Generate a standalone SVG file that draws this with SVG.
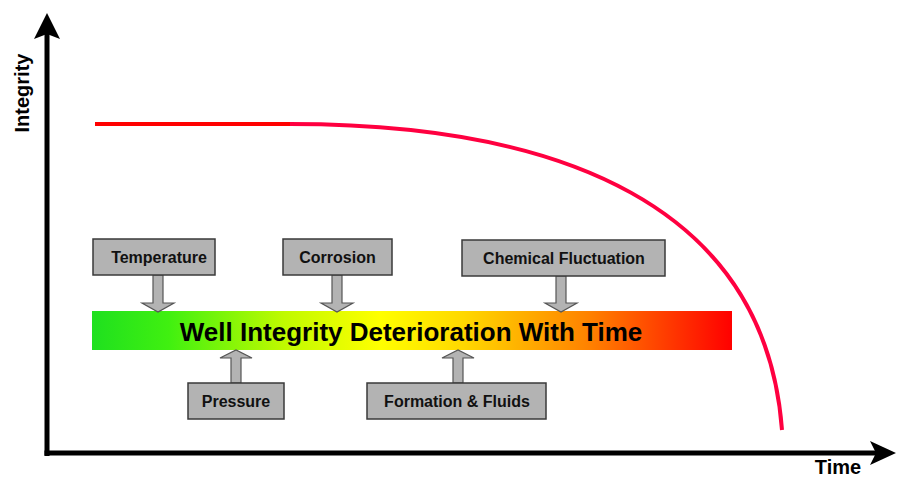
<svg xmlns="http://www.w3.org/2000/svg" width="897" height="477" viewBox="0 0 897 477">
<defs>
<linearGradient id="bar" x1="0" y1="0" x2="1" y2="0">
<stop offset="0" stop-color="#1fe01f"/>
<stop offset="0.12" stop-color="#40f010"/>
<stop offset="0.3" stop-color="#c0fa00"/>
<stop offset="0.45" stop-color="#ffff00"/>
<stop offset="0.58" stop-color="#ffd800"/>
<stop offset="0.78" stop-color="#ff8000"/>
<stop offset="1" stop-color="#ff0000"/>
</linearGradient>
<style>
.box{fill:#b3b3b3;stroke:#3a3a3a;stroke-width:1.5}
.arr{fill:#b3b3b3;stroke:#555;stroke-width:1.2}
.lbl{font-family:"Liberation Sans",Arial,sans-serif;font-weight:bold;font-size:16px;fill:#111;text-anchor:middle}
.ax{font-family:"Liberation Sans",Arial,sans-serif;font-weight:bold;font-size:20px;fill:#000;text-anchor:middle}
</style>
</defs>
<rect width="897" height="477" fill="#fff"/>
<g id="axes">
<line x1="47" y1="456" x2="47" y2="34" stroke="#000" stroke-width="5"/>
<polygon points="47,13 60,39 47,34 34,39" fill="#000"/>
<line x1="44.5" y1="453" x2="880" y2="453" stroke="#000" stroke-width="5"/>
<polygon points="896,453 870,441 876,453 870,465" fill="#000"/>
<text class="ax" transform="translate(29,93) rotate(-90)">Integrity</text>
<text class="ax" x="838" y="474">Time</text>
</g>
<g id="curve">
<line x1="95" y1="124" x2="291" y2="124" stroke="#ff0000" stroke-width="4"/>
<path d="M290,124 C560,124 765,205 782,430" fill="none" stroke="#ff0040" stroke-width="4"/>
</g>
<g id="bar">
<rect x="92" y="311" width="640" height="39" fill="url(#bar)"/>
<text x="411" y="341" font-family="Liberation Sans,Arial,sans-serif" font-weight="bold" font-size="26" fill="#000" text-anchor="middle">Well Integrity Deterioration With Time</text>
</g>
<g id="connectors">
<polygon class="arr" points="153,275 163,275 163,303 174,303 158,312 142,303 153,303"/>
<polygon class="arr" points="332,275 342,275 342,303 353,303 337,312 321,303 332,303"/>
<polygon class="arr" points="556,276 566,276 566,303 577,303 561,312 545,303 556,303"/>
<polygon class="arr" points="231,383 241,383 241,358 252,358 236,350 220,358 231,358"/>
<polygon class="arr" points="453,383 463,383 463,358 474,358 458,350 442,358 453,358"/>
</g>
<g id="temperature">
<rect class="box" x="93" y="239" width="122" height="36"/>
<text class="lbl" x="159" y="263">Temperature</text>
</g>
<g id="corrosion">
<rect class="box" x="283" y="239" width="109" height="36"/>
<text class="lbl" x="337.5" y="263">Corrosion</text>
</g>
<g id="chemical">
<rect class="box" x="462" y="240" width="203" height="36"/>
<text class="lbl" x="564" y="264">Chemical Fluctuation</text>
</g>
<g id="pressure">
<rect class="box" x="188" y="383" width="96" height="36"/>
<text class="lbl" x="236" y="407">Pressure</text>
</g>
<g id="formation">
<rect class="box" x="367" y="383" width="179" height="36"/>
<text class="lbl" x="457" y="407">Formation &amp; Fluids</text>
</g>
</svg>
